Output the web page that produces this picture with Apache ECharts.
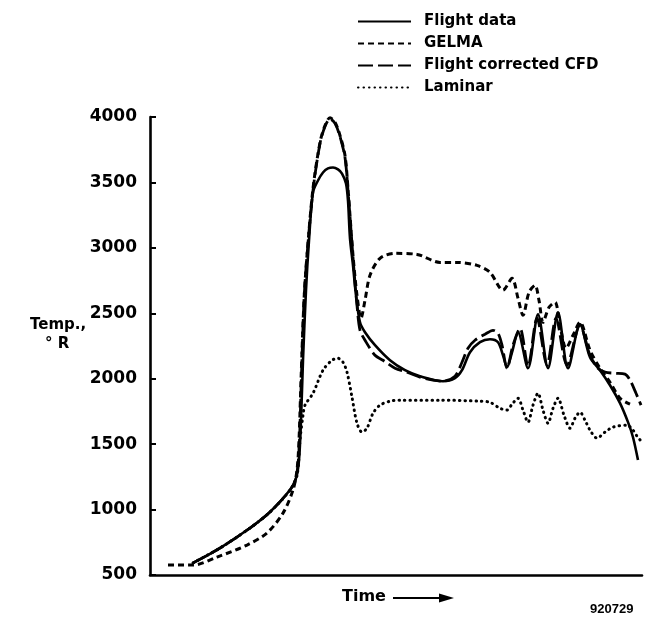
<!DOCTYPE html>
<html><head><meta charset="utf-8">
<script src="https://cdn.jsdelivr.net/npm/echarts@6/dist/echarts.min.js"></script>
<style>html,body{margin:0;padding:0;background:#fff}#c{width:647px;height:623px}</style>
</head><body><div id="c"></div>
<script>
// Time in arbitrary units, temperature in °R
const seriesNames = ['Flight data', 'GELMA', 'Flight corrected CFD', 'Laminar'];
const yTicks = [500, 1000, 1500, 2000, 2500, 3000, 3500, 4000];

const flightData = [[43,592],[70,706],[100,859],[120,981],[140,1149],[146,1240],[149,1378],[151,1683],[153,2141],[156,2676],[159,3057],[163,3424],[168,3515],[173,3576],[178,3607],[183,3614],[188,3600],[192,3568],[196,3492],[198,3360],[200,3073],[203,2866],[206,2637],[210,2431],[215,2355],[225,2256],[240,2141],[255,2065],[270,2019],[293,1981],[305,2004],[312,2065],[320,2202],[330,2279],[340,2302],[348,2279],[353,2179],[357,2088],[362,2202],[368,2355],[378,2080],[388,2492],[398,2080],[408,2507],[418,2080],[430,2416],[440,2164],[450,2065],[460,1950],[470,1813],[478,1668],[483,1553],[488,1378]];

const gelmaData = [[18,576],[43,576],[67,637],[97,729],[117,821],[133,973],[143,1149],[147,1302],[149,1531],[151,1989],[154,2599],[157,2943],[163,3454],[170,3805],[175,3935],[180,3995],[185,3960],[190,3859],[195,3706],[198,3454],[200,3248],[203,2943],[207,2637],[211,2462],[215,2599],[220,2790],[230,2920],[245,2958],[267,2950],[290,2889],[307,2889],[327,2866],[340,2813],[353,2676],[362,2767],[368,2615],[373,2485],[379,2660],[385,2714],[389,2599],[393,2431],[399,2546],[405,2584],[410,2408],[416,2233],[423,2332],[430,2431],[440,2218],[450,2080],[460,1973],[470,1851],[480,1805]];

const cfdData = [[43,592],[70,706],[100,859],[120,981],[140,1149],[146,1240],[149,1454],[151,1912],[154,2599],[157,2943],[163,3439],[170,3798],[175,3928],[180,3985],[185,3951],[190,3851],[195,3691],[198,3439],[201,3134],[204,2828],[207,2561],[210,2370],[215,2294],[225,2179],[233,2141],[245,2080],[257,2050],[270,2012],[283,1989],[293,1981],[305,2019],[312,2126],[318,2233],[325,2294],[335,2340],[343,2370],[348,2347],[352,2256],[357,2080],[363,2256],[370,2385],[378,2096],[387,2462],[397,2103],[406,2462],[417,2103],[430,2408],[440,2179],[448,2080],[455,2050],[465,2042],[475,2035],[480,1989],[486,1889],[491,1798]];

const laminarData = [[43,592],[70,706],[100,859],[120,981],[140,1149],[147,1260],[150,1531],[153,1721],[155,1798],[163,1889],[173,2065],[182,2141],[188,2156],[193,2126],[197,2050],[202,1859],[207,1660],[212,1592],[217,1622],[223,1736],[230,1798],[240,1828],[250,1836],[290,1836],[330,1828],[340,1820],[350,1774],[357,1760],[362,1805],[368,1851],[373,1760],[378,1668],[383,1798],[388,1889],[393,1760],[398,1660],[403,1774],[408,1851],[414,1721],[420,1622],[425,1698],[430,1744],[435,1683],[440,1607],[447,1546],[455,1592],[463,1630],[477,1645],[483,1607],[487,1561],[492,1515]];

const FONT = 'DejaVu Sans';
const chart = echarts.init(document.getElementById('c'), null, {renderer: 'canvas'});
function mk(name, data, type, width, cap) {
  return {
    name: name, type: 'line', data: data, smooth: 0.3, symbol: 'none', showSymbol: false,
    lineStyle: {color: '#000', width: width, type: type, cap: cap || 'butt'},
    itemStyle: {color: '#000'}, animation: false, z: 3
  };
}
chart.setOption({
  animation: false,
  backgroundColor: '#fff',
  grid: {left: 150, right: 5, top: 117, bottom: 48, containLabel: false},
  legend: {
    orient: 'vertical', left: 352, top: 9, itemWidth: 53, itemHeight: 14, itemGap: 7,
    data: seriesNames,
    itemStyle: {opacity: 0},
    textStyle: {fontFamily: FONT, fontWeight: 'bold', fontSize: 15, color: '#000', padding: [0, 0, 0, 8]},
    selectedMode: false
  },
  xAxis: {
    type: 'value', min: 0, max: 492,
    axisLine: {show: true, onZero: false, lineStyle: {color: '#000', width: 2.6}},
    axisTick: {show: false}, axisLabel: {show: false}, splitLine: {show: false}
  },
  yAxis: {
    type: 'value', min: yTicks[0], max: yTicks[yTicks.length - 1], interval: 500,
    axisLine: {show: true, lineStyle: {color: '#000', width: 2.6}},
    axisTick: {show: true, inside: true, length: 6, lineStyle: {color: '#000', width: 2}},
    axisLabel: {fontFamily: FONT, fontWeight: 'bold', fontSize: 17, color: '#000', margin: 13,
      formatter: function (v) { return String(v); }},
    splitLine: {show: false}
  },
  series: [
    mk(seriesNames[0], flightData, 'solid', 2.6),
    mk(seriesNames[1], gelmaData, [6, 4], 3),
    mk(seriesNames[2], cfdData, [15, 5], 2.8),
    mk(seriesNames[3], laminarData, [0.5, 5], 3, 'round')
  ],
  graphic: [
    {type: 'text', left: 30, top: 318, style: {text: 'Temp.,', font: 'bold 15px "DejaVu Sans"', fill: '#000'}},
    {type: 'text', left: 45, top: 337, style: {text: '° R', font: 'bold 15px "DejaVu Sans"', fill: '#000'}},
    {type: 'text', left: 342, top: 589, style: {text: 'Time', font: 'bold 16px "DejaVu Sans"', fill: '#000'}},
    {type: 'line', shape: {x1: 393, y1: 598, x2: 442, y2: 598}, style: {stroke: '#000', lineWidth: 2}},
    {type: 'polygon', shape: {points: [[439, 593.5], [454, 598], [439, 602.5]]}, style: {fill: '#000'}},
    {type: 'text', left: 590, top: 603, style: {text: '920729', font: 'bold 13px "Liberation Sans"', fill: '#000'}}
  ]
});
</script></body></html>
